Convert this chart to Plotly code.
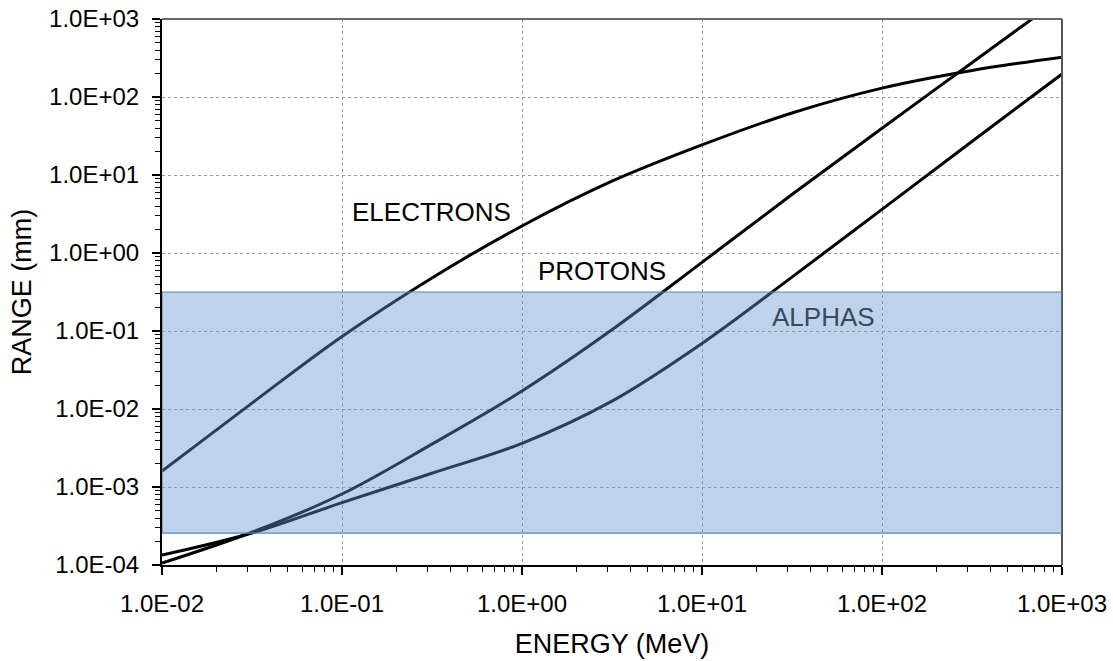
import numpy as np
import plotly.graph_objects as go

# Energy grid (MeV), half-decade steps
energy = [0.01, 0.0316, 0.1, 0.316, 1, 3.16, 10, 31.6, 100, 316, 1000]

# Range (mm) for each particle type at the energies above
electrons = [1.6e-3, 1.19e-2, 8.5e-2, 0.479, 2.22, 8.32, 24.3, 62.4, 130, 219, 324]
protons = [1.06e-4, 2.63e-4, 8.13e-4, 3.55e-3, 1.70e-2, 0.1035, 0.759, 5.62, 39.8, 275, 1905]
alphas = [1.34e-4, 2.57e-4, 6.31e-4, 1.50e-3, 3.63e-3, 1.26e-2, 6.92e-2, 0.49, 3.63, 26.9, 197]

x_ticks = [1e-2, 1e-1, 1e0, 1e1, 1e2, 1e3]
x_ticktext = ["1.0E-02", "1.0E-01", "1.0E+00", "1.0E+01", "1.0E+02", "1.0E+03"]
y_ticks = [1e-4, 1e-3, 1e-2, 1e-1, 1e0, 1e1, 1e2, 1e3]
y_ticktext = ["1.0E-04", "1.0E-03", "1.0E-02", "1.0E-01", "1.0E+00", "1.0E+01", "1.0E+02", "1.0E+03"]

# Shaded band of ranges
band_lo, band_hi = 2.57e-4, 0.316
band_x_end = 1013

FONT = "Liberation Sans, Arial, sans-serif"


def minor_vals(lo_exp, hi_exp):
    return [m * 10.0 ** e for e in range(lo_exp, hi_exp) for m in range(2, 10)]


fig = go.Figure()
for name, vals in [("ELECTRONS", electrons), ("PROTONS", protons), ("ALPHAS", alphas)]:
    fig.add_trace(go.Scatter(x=energy, y=vals, mode="lines", name=name,
                             line=dict(color="black", width=3, shape="spline", smoothing=1.0)))

axis_common = dict(
    type="log", showline=True, linecolor="black", linewidth=2,
    ticks="outside", ticklen=8, tickwidth=1.5, tickcolor="black",
    showgrid=True, gridcolor="#9a9a9a", griddash="dot", gridwidth=1,
    zeroline=False, tickfont=dict(family=FONT, size=24, color="black"),
    tickmode="array", automargin=False,
)

fig.update_xaxes(
    **axis_common, range=[-2, 3], tickvals=x_ticks, ticktext=x_ticktext,
    ticklabelstandoff=8,
    minor=dict(ticks="outside", ticklen=5, tickwidth=1.2, tickcolor="black",
               tickmode="array", tickvals=minor_vals(-2, 3), showgrid=False),
    title=dict(text="ENERGY (MeV)", font=dict(family=FONT, size=27, color="black"), standoff=18),
)
fig.update_yaxes(
    **axis_common, range=[-4, 3], tickvals=y_ticks, ticktext=y_ticktext,
    ticklabelstandoff=8,
    minor=dict(ticks="outside", ticklen=5, tickwidth=1.2, tickcolor="black",
               tickmode="array", tickvals=minor_vals(-4, 3), showgrid=False),
    title=dict(text="RANGE (mm)", font=dict(family=FONT, size=27, color="black"), standoff=10),
)

# Top and right frame lines
fig.add_shape(type="line", xref="paper", yref="paper", x0=0, x1=1, y0=1, y1=1,
              line=dict(color="#666666", width=2))
fig.add_shape(type="line", xref="paper", yref="paper", x0=1, x1=1, y0=0, y1=1,
              line=dict(color="#555555", width=2))

# Translucent band over the curves
fig.add_shape(type="rect", xref="x", yref="y", x0=1e-2, x1=band_x_end, y0=band_lo, y1=band_hi,
              fillcolor="rgba(100,150,205,0.42)", line=dict(color="rgb(92,130,185)", width=1.2),
              layer="above")

label_font = dict(family=FONT, size=26, color="black")
fig.add_annotation(x=np.log10(0.316), y=np.log10(3.36), text="ELECTRONS", showarrow=False, font=label_font)
fig.add_annotation(x=np.log10(2.78), y=np.log10(0.587), text="PROTONS", showarrow=False, font=label_font)
fig.add_annotation(x=np.log10(47.6), y=np.log10(0.151), text="ALPHAS", showarrow=False,
                   font=dict(family=FONT, size=26, color="#3a4862"))

fig.update_layout(
    width=1113, height=661,
    margin=dict(l=162, r=51, t=19, b=96),
    paper_bgcolor="white", plot_bgcolor="white",
    showlegend=False,
)

fig.write_html("out.html")
